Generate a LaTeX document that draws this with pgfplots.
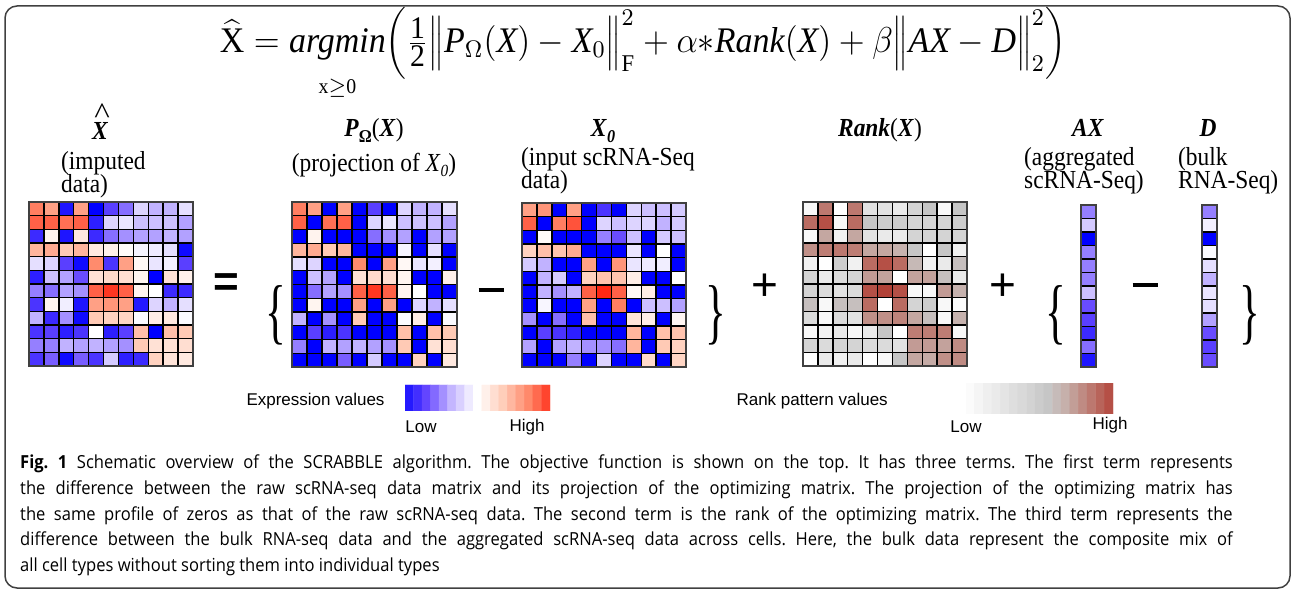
\documentclass[border=0pt]{standalone}
\usepackage{fontspec}
\setmainfont{Liberation Serif}
\newfontfamily\sansfont{Liberation Sans}
\newfontfamily\capfont{Open Sans}
\usepackage{pgfplots}
\pgfplotsset{compat=1.18}
\pgfplotsset{
  colormap={rankmap}{rgb255(0cm)=(255,255,255); rgb255(8cm)=(198,198,198); rgb255(11cm)=(198,178,174); rgb255(14cm)=(192,144,136); rgb255(17cm)=(186,108,98); rgb255(20cm)=(178,66,56)},
  colormap={expr}{rgb255(0cm)=(0,0,255); rgb255(1cm)=(100,70,255); rgb255(2cm)=(198,184,255); rgb255(3cm)=(255,255,255); rgb255(4cm)=(255,205,185); rgb255(5cm)=(255,135,105); rgb255(6cm)=(255,40,20)},
  heat/.style={scale only axis, enlargelimits=false, axis on top, y dir=reverse,
    xtick={-0.5,0.5,...,10.5}, ytick={-0.5,0.5,...,11.5}, xticklabels={}, yticklabels={},
    major tick length=0pt, tick style={draw=none}, grid=major,
    major grid style={black, line width=1.4pt}, axis line style={black!75, line width=1.4pt},
    anchor=north west, xmin=-0.5, xmax=10.5, ymin=-0.5, ymax=11.5,
    point meta min=-1, point meta max=1, colormap name=expr},
  col/.style={heat, xmin=-0.5, xmax=0.5, xtick={-0.5,0.5}},
  bar/.style={scale only axis, enlargelimits=false, hide axis, anchor=north west, y dir=reverse,
    ymin=-0.5, ymax=0.5, point meta min=-1, point meta max=1, colormap name=expr},
  /pgfplots/table/cells/.style={row sep=\\, x expr={\coordindex-#1*int((\coordindex+0.5)/#1)}, y expr={int((\coordindex+0.5)/#1)}, meta=c}
}
\newcommand\hf{\fontsize{26}{30}\selectfont}
\newcommand\fr[1]{\mbox{\fontsize{10.5}{10.5}\selectfont #1}}
\begin{document}
\begin{tikzpicture}
\path[use as bounding box] (0pt,0pt) rectangle (1295pt,592pt);
\draw[black!75, line width=1.5pt, rounded corners=12pt] (5pt,4pt) rectangle (1290pt,586pt);

% equation
\node[xscale=2.83, yscale=3.0, inner sep=0pt] at (643pt,538pt) {\fontsize{12}{14}\selectfont
$\widehat{\mbox{X}} = \mathop{\mbox{\itshape argmin}}\limits_{\mbox{\rule{0pt}{9.5pt}\scriptsize x$\geq$0}}\!\bigg(\frac{\fr{1}}{\fr{2}}\Big\|\mbox{\itshape P}_{\Omega}(\mbox{\itshape X}) - \mbox{\itshape X}_0\Big\|^2_{\mathrm{F}} + \alpha{*}\mbox{\itshape Rank}(\mbox{\itshape X}) + \beta\Big\|\mbox{\itshape AX} - \mbox{\itshape D}\Big\|^2_2\bigg)$};

% headers
\node[xscale=0.9, anchor=base] at (100pt,452pt) {\hf\bfseries\itshape X};
\node[xscale=1.1, anchor=base, inner sep=0pt] at (102pt,468pt) {\fontsize{30}{30}\selectfont \^{}};
\node[xscale=0.9, anchor=base west] at (58pt,422pt) {\hf (imputed};
\node[xscale=0.9, anchor=base west] at (58pt,399pt) {\hf data)};
\node[xscale=0.9, anchor=base] at (374pt,455pt) {\hf \textbf{\textit{P}}\raisebox{-6pt}{\fontsize{18}{18}\selectfont\bfseries Ω}(\textbf{\textit{X}})};
\node[xscale=0.9, anchor=base] at (374pt,420pt) {\hf (projection of \textit{X}\raisebox{-5pt}{\fontsize{17}{17}\selectfont\itshape 0})};
\node[xscale=0.9, anchor=base] at (603pt,455pt) {\hf \textbf{\textit{X}}\raisebox{-6pt}{\fontsize{18}{18}\selectfont\bfseries\itshape 0}};
\node[xscale=0.9, anchor=base west] at (518pt,426pt) {\hf (input scRNA-Seq};
\node[xscale=0.9, anchor=base west] at (518pt,403pt) {\hf data)};
\node[xscale=0.9, anchor=base] at (880pt,455pt) {\hf \textbf{\textit{Rank}}(\textbf{\textit{X}})};
\node[xscale=0.9, anchor=base] at (1088pt,455pt) {\hf \textbf{\textit{AX}}};
\node[xscale=0.9, anchor=base west] at (1021pt,426pt) {\hf (aggregated};
\node[xscale=0.9, anchor=base west] at (1021pt,403pt) {\hf scRNA-Seq)};
\node[xscale=0.9, anchor=base] at (1208pt,455pt) {\hf \textbf{\textit{D}}};
\node[xscale=0.9, anchor=base west] at (1175pt,426pt) {\hf (bulk};
\node[xscale=0.9, anchor=base west] at (1175pt,403pt) {\hf RNA-Seq)};

% operators
\node at (226pt,307pt) {\sansfont\bfseries\fontsize{44}{44}\selectfont =};
\node[xscale=0.6] at (276pt,277pt) {\fontsize{72}{72}\selectfont \{};
\node at (491pt,302pt) {\rule{25pt}{4.5pt}};
\node[xscale=0.6] at (716pt,277pt) {\fontsize{72}{72}\selectfont \}};
\node at (765pt,305pt) {\sansfont\fontsize{46}{46}\selectfont +};
\node at (1003pt,305pt) {\sansfont\fontsize{46}{46}\selectfont +};
\node[xscale=0.6] at (1056pt,277pt) {\fontsize{72}{72}\selectfont \{};
\node at (1145pt,307pt) {\rule{25pt}{4.5pt}};
\node[xscale=0.6] at (1250pt,277pt) {\fontsize{72}{72}\selectfont \}};

% X hat
\begin{axis}[heat, at={(29pt,390pt)}, width=164pt, height=164pt]
\addplot[matrix plot*, mesh/cols=11, point meta=explicit] table[cells=11] {c\\
0.7\\ 0.55\\ -0.9\\ 0.55\\ -1\\ -0.7\\ -0.55\\ -0.2\\ -0.35\\ -0.35\\ -0.15\\
0.8\\ 0.8\\ 0.75\\ 0.8\\ -0.85\\ -0.2\\ -0.12\\ -0.3\\ -0.3\\ -0.3\\ -0.4\\
-0.8\\ 0.08\\ -0.9\\ 0.15\\ -0.8\\ -0.55\\ -0.45\\ -0.4\\ -0.4\\ -0.35\\ -0.4\\
0.45\\ 0.5\\ 0.35\\ 0.45\\ 0.15\\ 0.1\\ 0.03\\ -0.05\\ -0.1\\ -0.15\\ -0.95\\
-0.15\\ -0.2\\ -0.7\\ -0.95\\ 0.65\\ -0.75\\ 0.55\\ 0.05\\ -0.12\\ -0.07\\ -0.7\\
-0.85\\ -0.3\\ -0.4\\ -0.65\\ 0.2\\ 0.25\\ 0.22\\ 0.07\\ -1\\ 0.2\\ 0.1\\
-0.5\\ -0.55\\ -0.4\\ -0.45\\ 0.8\\ 0.95\\ 0.8\\ 0.07\\ 0\\ -0.8\\ -0.8\\
-0.75\\ 0.07\\ -0.08\\ -0.9\\ 0.55\\ 0.6\\ 0.55\\ -0.88\\ -0.2\\ -0.35\\ -0.15\\
-0.35\\ -0.8\\ -0.45\\ -0.95\\ 0.35\\ 0.3\\ 0.28\\ -0.02\\ 0.12\\ 0.15\\ -0.02\\
-0.75\\ -0.7\\ -0.85\\ -0.75\\ 0\\ -0.85\\ -0.7\\ 0.4\\ -1\\ 0.4\\ 0.35\\
-0.5\\ -0.5\\ -0.35\\ -0.4\\ -0.35\\ -0.4\\ -0.45\\ 0.35\\ 0.2\\ 0.2\\ 0.22\\
-0.75\\ -0.6\\ -0.95\\ -0.6\\ -0.75\\ -0.25\\ -0.85\\ -0.8\\ 0.3\\ 0.18\\ 0.15\\};
\end{axis}

% P_Omega(X)
\begin{axis}[heat, at={(292pt,390pt)}, width=165pt, height=165pt]
\addplot[matrix plot*, mesh/cols=11, point meta=explicit] table[cells=11] {c\\
0.7\\ 0.55\\ -1\\ 0.55\\ -1\\ -0.7\\ -1\\ -0.2\\ -0.35\\ -0.35\\ -0.15\\
0.8\\ -1\\ 0.75\\ 0.8\\ -1\\ -0.2\\ -0.12\\ -0.3\\ -0.3\\ -0.3\\ -0.4\\
-1\\ 0.08\\ -1\\ -1\\ -1\\ -0.55\\ -0.45\\ -0.4\\ -1\\ -0.4\\ -0.4\\
0.45\\ 0.5\\ 0.35\\ 0.45\\ -1\\ -1\\ -1\\ -0.05\\ -1\\ -0.15\\ -1\\
-0.15\\ -0.2\\ -1\\ -1\\ 0.65\\ -1\\ 0.55\\ 0.05\\ -0.12\\ -0.07\\ -1\\
-1\\ -0.3\\ -0.4\\ -1\\ 0.2\\ 0.25\\ 0.22\\ 0.07\\ -1\\ -1\\ 0.1\\
-1\\ -0.55\\ -0.4\\ -0.45\\ 0.8\\ 0.95\\ 0.8\\ 0.07\\ 0\\ -1\\ -1\\
-1\\ 0.07\\ -1\\ -1\\ 0.55\\ -1\\ 0.55\\ -1\\ -0.2\\ -0.35\\ -0.15\\
-0.35\\ -1\\ -0.45\\ -1\\ 0.35\\ -1\\ -1\\ -0.02\\ 0.12\\ -1\\ -0.02\\
-1\\ -0.7\\ -0.85\\ -0.75\\ -1\\ -1\\ -1\\ 0.4\\ -1\\ 0.4\\ 0.35\\
-0.5\\ -1\\ -0.35\\ -0.4\\ -0.35\\ -0.4\\ -0.45\\ 0.35\\ -1\\ 0.2\\ 0.22\\
-1\\ -1\\ -1\\ -0.6\\ -1\\ -0.25\\ -1\\ -1\\ 0.3\\ -1\\ 0.15\\};
\end{axis}

% X_0
\begin{axis}[heat, at={(522pt,389pt)}, width=164pt, height=164pt]
\addplot[matrix plot*, mesh/cols=11, point meta=explicit] table[cells=11] {c\\
0.55\\ 0.6\\ -1\\ 0.55\\ -1\\ -0.75\\ -1\\ -0.2\\ -0.3\\ -0.3\\ -0.25\\
0.8\\ -1\\ 0.7\\ 0.85\\ -1\\ -0.2\\ -0.3\\ -0.2\\ -0.2\\ -0.35\\ -0.25\\
-1\\ 0.03\\ -1\\ -1\\ -1\\ -0.5\\ -0.65\\ -0.3\\ -1\\ -0.25\\ -0.3\\
0.3\\ 0.4\\ 0.38\\ 0.5\\ -1\\ -1\\ -1\\ -0.12\\ -1\\ 0\\ -1\\
-0.25\\ -0.35\\ -1\\ -1\\ 0.55\\ -1\\ 0.6\\ -0.12\\ -0.1\\ -0.08\\ -1\\
-1\\ -0.35\\ -0.25\\ -1\\ 0.3\\ 0.38\\ 0.38\\ 0.12\\ -1\\ -1\\ 0\\
-1\\ -0.35\\ -0.45\\ -0.35\\ 0.8\\ 1\\ 0.8\\ 0.05\\ 0.12\\ -1\\ -1\\
-1\\ -0.04\\ -1\\ -1\\ 0.55\\ -1\\ 0.7\\ -1\\ -0.3\\ -0.3\\ -0.4\\
-0.45\\ -1\\ -0.55\\ -1\\ 0.4\\ -1\\ -1\\ 0.18\\ 0.12\\ -1\\ 0.06\\
-1\\ -0.7\\ -0.75\\ -0.85\\ -1\\ -1\\ -1\\ 0.45\\ -1\\ 0.4\\ 0.38\\
-0.4\\ -1\\ -0.4\\ -0.35\\ -0.45\\ -0.45\\ -0.55\\ 0.45\\ -1\\ 0.35\\ 0.3\\
-1\\ -1\\ -1\\ -0.5\\ -1\\ -0.2\\ -1\\ -1\\ 0.25\\ -1\\ 0.28\\};
\end{axis}

% Rank(X)
\begin{axis}[heat, at={(803pt,390pt)}, width=164pt, height=164pt, colormap name=rankmap, point meta min=0, point meta max=1]
\addplot[matrix plot*, mesh/cols=11, point meta=explicit] table[cells=11] {c\\
0.05\\ 0.8\\ 0\\ 0.8\\ 0.2\\ 0.2\\ 0.15\\ 0.3\\ 0.4\\ 0.05\\ 0.4\\
0.85\\ 0.95\\ 0.05\\ 0.85\\ 0.4\\ 0.35\\ 0.35\\ 0.3\\ 0.3\\ 0.3\\ 0.35\\
0.05\\ 0.6\\ 0.1\\ 0.6\\ 0.2\\ 0.15\\ 0.15\\ 0.3\\ 0.3\\ 0.3\\ 0.3\\
0.7\\ 0.78\\ 0.8\\ 0.78\\ 0.6\\ 0.6\\ 0.55\\ 0.4\\ 0\\ 0.4\\ 0.1\\
0.1\\ 0\\ 0.35\\ 0.1\\ 0.85\\ 0.95\\ 0.85\\ 0.5\\ 0.1\\ 0.15\\ 0.45\\
0.3\\ 0.15\\ 0.25\\ 0.3\\ 0.65\\ 0.62\\ 0\\ 0.62\\ 0.62\\ 0.45\\ 0.15\\
0.3\\ 0.25\\ 0.2\\ 0.25\\ 0.95\\ 1\\ 0.95\\ 0.05\\ 0.05\\ 0.65\\ 0.55\\
0.45\\ 0.05\\ 0.45\\ 0.45\\ 0.85\\ 0\\ 0.85\\ 0.3\\ 0.35\\ 0.05\\ 0.02\\
0.25\\ 0.05\\ 0.25\\ 0.2\\ 0.7\\ 0.7\\ 0.75\\ 0.6\\ 0.45\\ 0.05\\ 0.55\\
0.05\\ 0.1\\ 0.15\\ 0.05\\ 0.15\\ 0.4\\ 0\\ 0.78\\ 0.78\\ 0.78\\ 0.05\\
0.3\\ 0.25\\ 0.3\\ 0.3\\ 0.25\\ 0.25\\ 0.2\\ 0.65\\ 0.65\\ 0.62\\ 0.72\\
0\\ 0.15\\ 0.1\\ 0.15\\ 0\\ 0.05\\ 0.4\\ 0.6\\ 0.58\\ 0.7\\ 0.72\\};
\end{axis}

% AX
\begin{axis}[col, at={(1081pt,387pt)}, width=15pt, height=162pt]
\addplot[matrix plot*, mesh/cols=2, point meta=explicit] table[cells=2] {c\\
-0.5\\ -0.5\\ -0.25\\ -0.25\\ -1\\ -1\\ -0.5\\ -0.5\\ -0.5\\ -0.5\\ -0.5\\ -0.5\\
-0.3\\ -0.3\\ -0.65\\ -0.65\\ -0.7\\ -0.7\\ -0.8\\ -0.8\\ -0.55\\ -0.55\\ -0.9\\ -0.9\\};
\end{axis}

% D
\begin{axis}[col, at={(1202pt,387pt)}, width=15pt, height=162pt]
\addplot[matrix plot*, mesh/cols=2, point meta=explicit] table[cells=2] {c\\
-0.5\\ -0.5\\ -0.07\\ -0.07\\ -1\\ -1\\ -0.02\\ -0.02\\ -0.15\\ -0.15\\ -0.35\\ -0.35\\
-0.12\\ -0.12\\ -0.15\\ -0.15\\ -0.4\\ -0.4\\ -0.65\\ -0.65\\ -0.7\\ -0.7\\ -0.65\\ -0.65\\};
\end{axis}

% expression colour bar
\begin{axis}[bar, at={(405pt,207pt)}, width=145pt, height=26pt, xmin=-0.5, xmax=16.5]
\addplot[matrix plot*, mesh/cols=17, point meta=explicit] table[cells=17] {c\\
-0.88\\ -0.78\\ -0.67\\ -0.56\\ -0.45\\ -0.34\\ -0.22\\ -0.1\\ 0\\ 0.1\\ 0.22\\ 0.33\\ 0.44\\ 0.55\\ 0.66\\ 0.77\\ 0.9\\
-0.88\\ -0.78\\ -0.67\\ -0.56\\ -0.45\\ -0.34\\ -0.22\\ -0.1\\ 0\\ 0.1\\ 0.22\\ 0.33\\ 0.44\\ 0.55\\ 0.66\\ 0.77\\ 0.9\\};
\end{axis}

% rank colour bar
\begin{axis}[bar, at={(966pt,209pt)}, width=147pt, height=30pt, xmin=-0.5, xmax=16.5, colormap name=rankmap, point meta min=0, point meta max=1]
\addplot[matrix plot*, mesh/cols=17, point meta=explicit] table[cells=17] {c\\
0.03\\ 0.07\\ 0.11\\ 0.15\\ 0.19\\ 0.23\\ 0.27\\ 0.31\\ 0.36\\ 0.4\\ 0.48\\ 0.56\\ 0.64\\ 0.72\\ 0.8\\ 0.88\\ 0.95\\
0.03\\ 0.07\\ 0.11\\ 0.15\\ 0.19\\ 0.23\\ 0.27\\ 0.31\\ 0.36\\ 0.4\\ 0.48\\ 0.56\\ 0.64\\ 0.72\\ 0.8\\ 0.88\\ 0.95\\};
\end{axis}

% legend texts
\node[anchor=west] at (243pt,191pt) {\sansfont\fontsize{17}{20}\selectfont Expression values};
\node at (421pt,165pt) {\sansfont\fontsize{17}{20}\selectfont Low};
\node at (527pt,165pt) {\sansfont\fontsize{17}{20}\selectfont High};
\node[anchor=west] at (733pt,191pt) {\sansfont\fontsize{17}{20}\selectfont Rank pattern values};
\node at (966pt,165pt) {\sansfont\fontsize{17}{20}\selectfont Low};
\node at (1110pt,167pt) {\sansfont\fontsize{17}{20}\selectfont High};

% caption
\node[anchor=north west, xscale=0.92, text width=1318pt, align=justify, inner sep=0pt,
  font=\capfont\fontsize{18}{25.6}\selectfont\frenchspacing] at (20pt,137pt)
{\textbf{Fig. 1} Schematic overview of the SCRABBLE algorithm. The objective function is shown on the top. It has three terms. The first term represents\linebreak
the difference between the raw scRNA-seq data matrix and its projection of the optimizing matrix. The projection of the optimizing matrix has\linebreak
the same profile of zeros as that of the raw scRNA-seq data. The second term is the rank of the optimizing matrix. The third term represents the\linebreak
difference between the bulk RNA-seq data and the aggregated scRNA-seq data across cells. Here, the bulk data represent the composite mix of\linebreak
all cell types without sorting them into individual types};
\end{tikzpicture}
\end{document}
